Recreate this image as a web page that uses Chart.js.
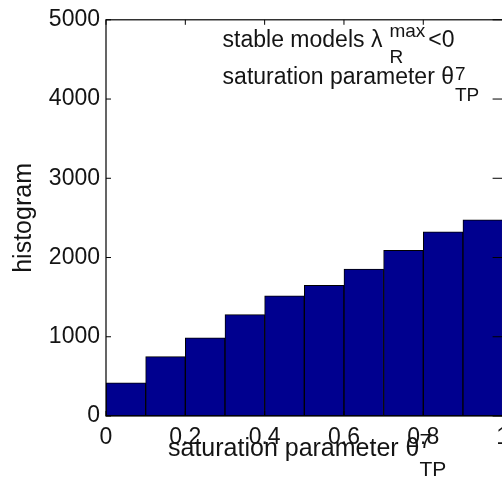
<!DOCTYPE html>
<html>
<head>
<meta charset="utf-8">
<script src="https://cdn.jsdelivr.net/npm/chart.js@4.4.1/dist/chart.umd.min.js"></script>
<style>
  html, body { margin: 0; padding: 0; background: #fff; overflow: hidden; }
  #histChart { display: block; }
</style>
</head>
<body>
<canvas id="histChart" width="512" height="478"></canvas>
<script>
// histogram of the saturation parameter (bin centres, 10 bins of 0.1)
const binCenters = [0.05, 0.15, 0.25, 0.35, 0.45, 0.55, 0.65, 0.75, 0.85, 0.95];
const counts = [420, 750, 985, 1280, 1515, 1650, 1855, 2090, 2325, 2475];
const xTicks = [0, 0.2, 0.4, 0.6, 0.8, 1];
const yTicks = [0, 1000, 2000, 3000, 4000, 5000];

const FONT = '"Liberation Sans", Arial, Helvetica, sans-serif';
const TEXT = '#141414';

// draws a run of text pieces, some of them with super/subscripts stacked
function drawRich(ctx, x, y, parts) {
    let cx = x;
    parts.forEach(p => {
        ctx.font = p.size + 'px ' + FONT;
        cx += p.gap || 0;
        if (p.t !== undefined) {
            ctx.fillText(p.t, cx, y);
            cx += ctx.measureText(p.t).width;
        } else {
            const w1 = p.sup ? ctx.measureText(p.sup).width : 0;
            const w2 = p.sub ? ctx.measureText(p.sub).width : 0;
            if (p.sup) ctx.fillText(p.sup, cx, y + p.supDy);
            if (p.sub) ctx.fillText(p.sub, cx, y + p.subDy);
            cx += Math.max(w1, w2);
        }
    });
    return cx - x;
}

const frame = {
    id: 'frame',
    afterDatasetsDraw(chart) {
        const ctx = chart.ctx;
        const a = chart.chartArea;
        const xs = chart.scales.x, ys = chart.scales.y;
        ctx.save();
        ctx.strokeStyle = '#000';
        ctx.lineWidth = 1.2;
        ctx.strokeRect(a.left, a.top, a.right - a.left, a.bottom - a.top);

        // inward tick marks on all four sides
        const len = 5;
        ctx.lineWidth = 1;
        ctx.beginPath();
        xTicks.forEach(v => {
            const px = xs.getPixelForValue(v);
            ctx.moveTo(px, a.bottom); ctx.lineTo(px, a.bottom - len);
            ctx.moveTo(px, a.top); ctx.lineTo(px, a.top + len);
        });
        yTicks.forEach(v => {
            const py = ys.getPixelForValue(v);
            ctx.moveTo(a.left, py); ctx.lineTo(a.left + len, py);
            ctx.moveTo(a.right, py); ctx.lineTo(a.right - 10, py);
        });
        ctx.stroke();

        // annotation inside the axes
        ctx.fillStyle = TEXT;
        ctx.textBaseline = 'alphabetic';
        ctx.textAlign = 'left';
        const tx = xs.getPixelForValue(0.294);
        drawRich(ctx, tx, ys.getPixelForValue(4660), [
            { t: 'stable models ', size: 23 },
            { t: 'λ', size: 23 },
            { sup: 'max', sub: 'R', size: 19, supDy: -10, subDy: 16, gap: 7 },
            { t: '<0', size: 23, gap: 3 }
        ]);
        drawRich(ctx, tx, ys.getPixelForValue(4190), [
            { t: 'saturation parameter θ', size: 23 },
            { sup: '7', sub: 'TP', size: 19, supDy: -4, subDy: 17, gap: 1 }
        ]);

        // x axis label under the axes
        drawRich(ctx, a.left + 62, 456, [
            { t: 'saturation parameter θ', size: 25 },
            { sup: '7', sub: 'TP', size: 21, supDy: -8, subDy: 20 }
        ]);
        ctx.restore();
    }
};

new Chart(document.getElementById('histChart'), {
    type: 'bar',
    data: {
        datasets: [{
            data: binCenters.map((x, i) => ({ x: x, y: counts[i] })),
            backgroundColor: '#00008f',
            borderColor: '#000',
            borderWidth: 1,
            borderSkipped: false,
            barPercentage: 1,
            categoryPercentage: 1
        }]
    },
    options: {
        responsive: false,
        animation: false,
        devicePixelRatio: 1,
        layout: { padding: { top: 18.5, right: 9.4, left: 0, bottom: 0 } },
        plugins: { legend: { display: false }, tooltip: { enabled: false } },
        scales: {
            x: {
                type: 'linear',
                min: 0,
                max: 1,
                offset: false,
                grid: { display: false, drawTicks: false },
                border: { display: false },
                afterBuildTicks: s => { s.ticks = xTicks.map(v => ({ value: v })); },
                afterFit: s => { s.height = 62; s.paddingLeft = 0; s.paddingRight = 0; },
                ticks: {
                    color: TEXT,
                    padding: 8,
                    maxRotation: 0,
                    font: { family: FONT, size: 23 },
                    callback: v => String(v)
                }
            },
            y: {
                min: 0,
                max: 5000,
                grid: { display: false, drawTicks: false },
                border: { display: false },
                afterBuildTicks: s => { s.ticks = yTicks.map(v => ({ value: v })); },
                afterFit: s => { s.width = 106; },
                ticks: {
                    color: TEXT,
                    padding: 6,
                    font: { family: FONT, size: 23 },
                    callback: v => String(v)
                },
                title: {
                    display: true,
                    text: 'histogram',
                    color: TEXT,
                    font: { family: FONT, size: 25 },
                    padding: { top: 9, bottom: 0 }
                }
            }
        }
    },
    plugins: [frame]
});
</script>
</body>
</html>
